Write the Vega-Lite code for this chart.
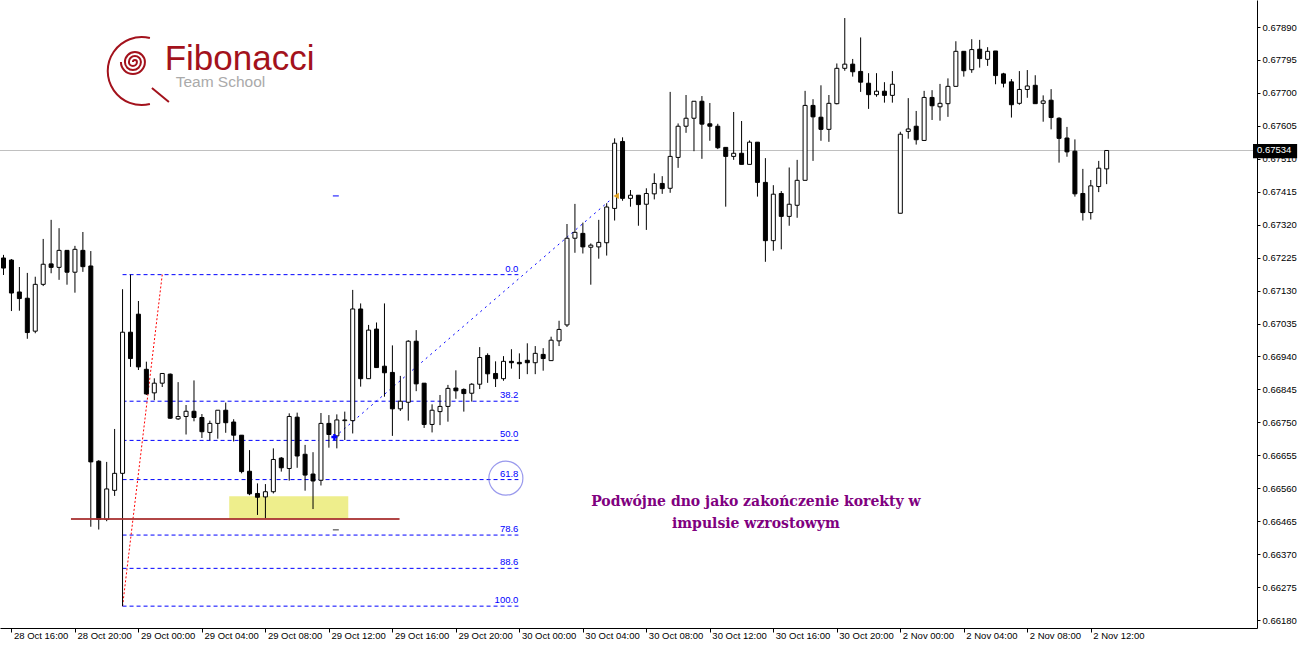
{
  "$schema": "https://vega.github.io/schema/vega-lite/v6.json",
  "width": 1257,
  "height": 628,
  "autosize": {"type": "none"},
  "padding": {"left": 0, "top": 0, "right": 44, "bottom": 17},
  "background": "#ffffff",
  "config": {"view": {"stroke": null}},
  "resolve": {"axis": {"x": "independent", "y": "independent"}},
  "datasets": {
    "candles": [
      {"i":-1,"o":0.67224,"h":0.67233,"l":0.67175,"c":0.67195},
      {"i":0,"o":0.67218,"h":0.67221,"l":0.67071,"c":0.67123},
      {"i":1,"o":0.67126,"h":0.67198,"l":0.67072,"c":0.67107},
      {"i":2,"o":0.67108,"h":0.67181,"l":0.66991,"c":0.67009},
      {"i":3,"o":0.67013,"h":0.67170,"l":0.67007,"c":0.67148},
      {"i":4,"o":0.67148,"h":0.67279,"l":0.67143,"c":0.67206},
      {"i":5,"o":0.67207,"h":0.67334,"l":0.67180,"c":0.67197},
      {"i":6,"o":0.67197,"h":0.67310,"l":0.67161,"c":0.67246},
      {"i":7,"o":0.67246,"h":0.67247,"l":0.67147,"c":0.67183},
      {"i":8,"o":0.67183,"h":0.67259,"l":0.67124,"c":0.67249},
      {"i":9,"o":0.67246,"h":0.67299,"l":0.67184,"c":0.67199},
      {"i":10,"o":0.67201,"h":0.67244,"l":0.66449,"c":0.66636},
      {"i":11,"o":0.66638,"h":0.66641,"l":0.66441,"c":0.66470},
      {"i":12,"o":0.66470,"h":0.66636,"l":0.66465,"c":0.66558},
      {"i":13,"o":0.66554,"h":0.66731,"l":0.66538,"c":0.66603},
      {"i":14,"o":0.66603,"h":0.67134,"l":0.66220,"c":0.67010},
      {"i":15,"o":0.67010,"h":0.67176,"l":0.66910,"c":0.66934},
      {"i":16,"o":0.67062,"h":0.67100,"l":0.66901,"c":0.66910},
      {"i":17,"o":0.66903,"h":0.66925,"l":0.66829,"c":0.66832},
      {"i":18,"o":0.66835,"h":0.66877,"l":0.66814,"c":0.66863},
      {"i":19,"o":0.66863,"h":0.66892,"l":0.66852,"c":0.66891},
      {"i":20,"o":0.66889,"h":0.66891,"l":0.66760,"c":0.66762},
      {"i":21,"o":0.66760,"h":0.66866,"l":0.66757,"c":0.66767},
      {"i":22,"o":0.66767,"h":0.66800,"l":0.66715,"c":0.66782},
      {"i":23,"o":0.66782,"h":0.66871,"l":0.66753,"c":0.66764},
      {"i":24,"o":0.66764,"h":0.66774,"l":0.66705,"c":0.66723},
      {"i":25,"o":0.66721,"h":0.66755,"l":0.66699,"c":0.66747},
      {"i":26,"o":0.66747,"h":0.66785,"l":0.66703,"c":0.66785},
      {"i":27,"o":0.66785,"h":0.66807,"l":0.66720,"c":0.66749},
      {"i":28,"o":0.66751,"h":0.66759,"l":0.66695,"c":0.66713},
      {"i":29,"o":0.66713,"h":0.66713,"l":0.66603,"c":0.66608},
      {"i":30,"o":0.66609,"h":0.66670,"l":0.66540,"c":0.66544},
      {"i":31,"o":0.66545,"h":0.66574,"l":0.66483,"c":0.66534},
      {"i":32,"o":0.66535,"h":0.66572,"l":0.66473,"c":0.66550},
      {"i":33,"o":0.66550,"h":0.66675,"l":0.66545,"c":0.66643},
      {"i":34,"o":0.66647,"h":0.66650,"l":0.66608,"c":0.66619},
      {"i":35,"o":0.66617,"h":0.66776,"l":0.66582,"c":0.66767},
      {"i":36,"o":0.66765,"h":0.66778,"l":0.66619,"c":0.66653},
      {"i":37,"o":0.66658,"h":0.66685,"l":0.66553,"c":0.66598},
      {"i":38,"o":0.66601,"h":0.66664,"l":0.66500,"c":0.66581},
      {"i":39,"o":0.66583,"h":0.66777,"l":0.66568,"c":0.66747},
      {"i":40,"o":0.66747,"h":0.66771,"l":0.66677,"c":0.66715},
      {"i":41,"o":0.66711,"h":0.66773,"l":0.66675,"c":0.66757},
      {"i":42,"o":0.66755,"h":0.66781,"l":0.66699,"c":0.66757},
      {"i":43,"o":0.66755,"h":0.67132,"l":0.66718,"c":0.67077},
      {"i":44,"o":0.67077,"h":0.67093,"l":0.66853,"c":0.66876},
      {"i":45,"o":0.66876,"h":0.67031,"l":0.66876,"c":0.67016},
      {"i":46,"o":0.67019,"h":0.67038,"l":0.66907,"c":0.66908},
      {"i":47,"o":0.66912,"h":0.67093,"l":0.66824,"c":0.66893},
      {"i":48,"o":0.66894,"h":0.66972,"l":0.66711,"c":0.66789},
      {"i":49,"o":0.66789,"h":0.66884,"l":0.66783,"c":0.66811},
      {"i":50,"o":0.66808,"h":0.66987,"l":0.66755,"c":0.66984},
      {"i":51,"o":0.66984,"h":0.67016,"l":0.66840,"c":0.66861},
      {"i":52,"o":0.66863,"h":0.66863,"l":0.66734,"c":0.66744},
      {"i":53,"o":0.66744,"h":0.66802,"l":0.66721,"c":0.66785},
      {"i":54,"o":0.66781,"h":0.66829,"l":0.66742,"c":0.66796},
      {"i":55,"o":0.66796,"h":0.66858,"l":0.66752,"c":0.66848},
      {"i":56,"o":0.66849,"h":0.66900,"l":0.66818,"c":0.66841},
      {"i":57,"o":0.66845,"h":0.66848,"l":0.66781,"c":0.66833},
      {"i":58,"o":0.66834,"h":0.66863,"l":0.66810,"c":0.66860},
      {"i":59,"o":0.66860,"h":0.66967,"l":0.66846,"c":0.66937},
      {"i":60,"o":0.66943,"h":0.66949,"l":0.66864,"c":0.66890},
      {"i":61,"o":0.66891,"h":0.66926,"l":0.66852,"c":0.66876},
      {"i":62,"o":0.66876,"h":0.66941,"l":0.66870,"c":0.66926},
      {"i":63,"o":0.66926,"h":0.66961,"l":0.66905,"c":0.66922},
      {"i":64,"o":0.66923,"h":0.66949,"l":0.66875,"c":0.66919},
      {"i":65,"o":0.66929,"h":0.66978,"l":0.66889,"c":0.66922},
      {"i":66,"o":0.66922,"h":0.66970,"l":0.66889,"c":0.66949},
      {"i":67,"o":0.66946,"h":0.66964,"l":0.66899,"c":0.66934},
      {"i":68,"o":0.66928,"h":0.66997,"l":0.66928,"c":0.66987},
      {"i":69,"o":0.66985,"h":0.67043,"l":0.66970,"c":0.67018},
      {"i":70,"o":0.67031,"h":0.67322,"l":0.67025,"c":0.67281},
      {"i":71,"o":0.67281,"h":0.67380,"l":0.67239,"c":0.67298},
      {"i":72,"o":0.67295,"h":0.67326,"l":0.67237,"c":0.67256},
      {"i":73,"o":0.67255,"h":0.67266,"l":0.67147,"c":0.67261},
      {"i":74,"o":0.67256,"h":0.67334,"l":0.67222,"c":0.67269},
      {"i":75,"o":0.67268,"h":0.67382,"l":0.67231,"c":0.67371},
      {"i":76,"o":0.67367,"h":0.67569,"l":0.67332,"c":0.67555},
      {"i":77,"o":0.67560,"h":0.67572,"l":0.67389,"c":0.67396},
      {"i":78,"o":0.67396,"h":0.67420,"l":0.67372,"c":0.67405},
      {"i":79,"o":0.67405,"h":0.67405,"l":0.67317,"c":0.67378},
      {"i":80,"o":0.67379,"h":0.67425,"l":0.67305,"c":0.67410},
      {"i":81,"o":0.67409,"h":0.67468,"l":0.67393,"c":0.67439},
      {"i":82,"o":0.67439,"h":0.67460,"l":0.67409,"c":0.67424},
      {"i":83,"o":0.67425,"h":0.67703,"l":0.67412,"c":0.67517},
      {"i":84,"o":0.67514,"h":0.67612,"l":0.67484,"c":0.67604},
      {"i":85,"o":0.67604,"h":0.67694,"l":0.67585,"c":0.67627},
      {"i":86,"o":0.67627,"h":0.67676,"l":0.67532,"c":0.67676},
      {"i":87,"o":0.67676,"h":0.67691,"l":0.67510,"c":0.67610},
      {"i":88,"o":0.67611,"h":0.67671,"l":0.67562,"c":0.67604},
      {"i":89,"o":0.67604,"h":0.67611,"l":0.67538,"c":0.67542},
      {"i":90,"o":0.67543,"h":0.67543,"l":0.67372,"c":0.67517},
      {"i":91,"o":0.67517,"h":0.67645,"l":0.67507,"c":0.67526},
      {"i":92,"o":0.67526,"h":0.67619,"l":0.67494,"c":0.67494},
      {"i":93,"o":0.67494,"h":0.67563,"l":0.67494,"c":0.67558},
      {"i":94,"o":0.67558,"h":0.67558,"l":0.67401,"c":0.67442},
      {"i":95,"o":0.67442,"h":0.67512,"l":0.67213,"c":0.67274},
      {"i":96,"o":0.67274,"h":0.67434,"l":0.67245,"c":0.67408},
      {"i":97,"o":0.67410,"h":0.67417,"l":0.67249,"c":0.67344},
      {"i":98,"o":0.67344,"h":0.67485,"l":0.67317,"c":0.67379},
      {"i":99,"o":0.67376,"h":0.67507,"l":0.67340,"c":0.67448},
      {"i":100,"o":0.67448,"h":0.67706,"l":0.67448,"c":0.67664},
      {"i":101,"o":0.67664,"h":0.67682,"l":0.67504,"c":0.67631},
      {"i":102,"o":0.67630,"h":0.67722,"l":0.67562,"c":0.67595},
      {"i":103,"o":0.67595,"h":0.67694,"l":0.67559,"c":0.67670},
      {"i":104,"o":0.67669,"h":0.67785,"l":0.67667,"c":0.67771},
      {"i":105,"o":0.67771,"h":0.67916,"l":0.67764,"c":0.67783},
      {"i":106,"o":0.67783,"h":0.67798,"l":0.67747,"c":0.67761},
      {"i":107,"o":0.67762,"h":0.67860,"l":0.67703,"c":0.67731},
      {"i":108,"o":0.67728,"h":0.67757,"l":0.67654,"c":0.67695},
      {"i":109,"o":0.67695,"h":0.67757,"l":0.67689,"c":0.67705},
      {"i":110,"o":0.67705,"h":0.67731,"l":0.67672,"c":0.67693},
      {"i":111,"o":0.67693,"h":0.67763,"l":0.67672,"c":0.67725},
      {"i":112,"o":0.67353,"h":0.67588,"l":0.67353,"c":0.67581},
      {"i":113,"o":0.67589,"h":0.67685,"l":0.67568,"c":0.67596},
      {"i":114,"o":0.67604,"h":0.67648,"l":0.67551,"c":0.67565},
      {"i":115,"o":0.67563,"h":0.67706,"l":0.67563,"c":0.67687},
      {"i":116,"o":0.67687,"h":0.67708,"l":0.67622,"c":0.67663},
      {"i":117,"o":0.67660,"h":0.67726,"l":0.67620,"c":0.67670},
      {"i":118,"o":0.67669,"h":0.67742,"l":0.67631,"c":0.67719},
      {"i":119,"o":0.67719,"h":0.67849,"l":0.67719,"c":0.67820},
      {"i":120,"o":0.67820,"h":0.67820,"l":0.67747,"c":0.67764},
      {"i":121,"o":0.67767,"h":0.67855,"l":0.67758,"c":0.67825},
      {"i":122,"o":0.67826,"h":0.67853,"l":0.67773,"c":0.67799},
      {"i":123,"o":0.67797,"h":0.67832,"l":0.67778,"c":0.67820},
      {"i":124,"o":0.67821,"h":0.67821,"l":0.67725,"c":0.67750},
      {"i":125,"o":0.67755,"h":0.67758,"l":0.67716,"c":0.67728},
      {"i":126,"o":0.67732,"h":0.67740,"l":0.67629,"c":0.67666},
      {"i":127,"o":0.67670,"h":0.67763,"l":0.67666,"c":0.67710},
      {"i":128,"o":0.67710,"h":0.67766,"l":0.67686,"c":0.67720},
      {"i":129,"o":0.67722,"h":0.67751,"l":0.67669,"c":0.67669},
      {"i":130,"o":0.67670,"h":0.67693,"l":0.67617,"c":0.67677},
      {"i":131,"o":0.67679,"h":0.67711,"l":0.67595,"c":0.67629},
      {"i":132,"o":0.67627,"h":0.67630,"l":0.67499,"c":0.67569},
      {"i":133,"o":0.67570,"h":0.67602,"l":0.67516,"c":0.67530},
      {"i":134,"o":0.67532,"h":0.67566,"l":0.67401,"c":0.67409},
      {"i":135,"o":0.67410,"h":0.67481,"l":0.67332,"c":0.67355},
      {"i":136,"o":0.67355,"h":0.67449,"l":0.67335,"c":0.67432},
      {"i":137,"o":0.67430,"h":0.67504,"l":0.67414,"c":0.67483},
      {"i":138,"o":0.67481,"h":0.67534,"l":0.67437,"c":0.67534}
    ],
    "fib": [
      {"lvl":"0.0","p":0.67176,"i":14,"i2":63.875},
      {"lvl":"38.2","p":0.66811,"i":14,"i2":63.875},
      {"lvl":"50.0","p":0.66698,"i":14,"i2":63.875},
      {"lvl":"61.8","p":0.66585,"i":14,"i2":63.875},
      {"lvl":"78.6","p":0.66425,"i":14,"i2":63.875},
      {"lvl":"88.6","p":0.66329,"i":14,"i2":63.875},
      {"lvl":"100.0","p":0.66220,"i":14,"i2":63.875}
    ]
  },
  "layer": [
    {
      "data": {"values": [{"p": 0.67534}]},
      "mark": {"type": "rule", "color": "#c0c0c0", "strokeWidth": 1},
      "encoding": {
        "y": {"field": "p", "type": "quantitative", "scale": {"domain": [0.66157, 0.67968], "nice": false, "zero": false}, "axis": null}
      }
    },
    {
      "data": {"values": [{"i": 27.44, "i2": 42.44, "p": 0.66537, "p2": 0.66471}]},
      "mark": {"type": "rect", "fill": "#eeee8c"},
      "encoding": {
        "x": {"field": "i", "type": "quantitative", "scale": {"domain": [-0.8125, 156.3125], "nice": false, "zero": false}, "axis": null},
        "x2": {"field": "i2"},
        "y": {"field": "p", "type": "quantitative", "scale": {"domain": [0.66157, 0.67968], "nice": false, "zero": false}, "axis": null},
        "y2": {"field": "p2"}
      }
    },
    {
      "data": {"name": "fib"},
      "mark": {"type": "rule", "color": "#0000ff", "strokeWidth": 1, "strokeDash": [4, 3]},
      "encoding": {
        "x": {"field": "i", "type": "quantitative", "scale": {"domain": [-0.8125, 156.3125], "nice": false, "zero": false}, "axis": null},
        "x2": {"field": "i2"},
        "y": {"field": "p", "type": "quantitative", "scale": {"domain": [0.66157, 0.67968], "nice": false, "zero": false}, "axis": null}
      }
    },
    {
      "data": {"name": "fib"},
      "mark": {"type": "text", "color": "#0000ff", "font": "Liberation Sans", "fontSize": 9.5, "align": "right", "baseline": "bottom", "dy": -1},
      "encoding": {
        "x": {"field": "i2", "type": "quantitative", "scale": {"domain": [-0.8125, 156.3125], "nice": false, "zero": false}, "axis": null},
        "y": {"field": "p", "type": "quantitative", "scale": {"domain": [0.66157, 0.67968], "nice": false, "zero": false}, "axis": null},
        "text": {"field": "lvl"}
      }
    },
    {
      "data": {"values": [{"i": 14, "p": 0.66220}, {"i": 19, "p": 0.67176}]},
      "mark": {"type": "line", "color": "#ff0000", "strokeWidth": 1, "strokeDash": [2, 2]},
      "encoding": {
        "x": {"field": "i", "type": "quantitative", "scale": {"domain": [-0.8125, 156.3125], "nice": false, "zero": false}, "axis": null},
        "y": {"field": "p", "type": "quantitative", "scale": {"domain": [0.66157, 0.67968], "nice": false, "zero": false}, "axis": null}
      }
    },
    {
      "data": {"values": [{"i": 40.75, "p": 0.66708}, {"i": 75.75, "p": 0.67397}]},
      "mark": {"type": "line", "color": "#0000ff", "strokeWidth": 1, "strokeDash": [2, 4]},
      "encoding": {
        "x": {"field": "i", "type": "quantitative", "scale": {"domain": [-0.8125, 156.3125], "nice": false, "zero": false}, "axis": null},
        "y": {"field": "p", "type": "quantitative", "scale": {"domain": [0.66157, 0.67968], "nice": false, "zero": false}, "axis": null}
      }
    },
    {
      "data": {"name": "candles"},
      "mark": {"type": "rule", "color": "#000000", "strokeWidth": 1},
      "encoding": {
        "x": {
          "field": "i", "type": "quantitative",
          "scale": {"domain": [-0.8125, 156.3125], "nice": false, "zero": false},
          "axis": {
            "orient": "bottom", "title": null, "grid": false,
            "values": [0, 8, 16, 24, 32, 40, 48, 56, 64, 72, 80, 88, 96, 104, 112, 120, 128, 136],
            "labelExpr": "['28 Oct 16:00','28 Oct 20:00','29 Oct 00:00','29 Oct 04:00','29 Oct 08:00','29 Oct 12:00','29 Oct 16:00','29 Oct 20:00','30 Oct 00:00','30 Oct 04:00','30 Oct 08:00','30 Oct 12:00','30 Oct 16:00','30 Oct 20:00','2 Nov 00:00','2 Nov 04:00','2 Nov 08:00','2 Nov 12:00'][round(datum.value / 8)]",
            "labelAlign": "left", "labelBaseline": "top", "labelOffset": 2, "labelPadding": -2,
            "tickSize": 4, "tickColor": "#000000", "domainColor": "#000000",
            "labelColor": "#000000", "labelFont": "Liberation Sans", "labelFontSize": 9.5,
            "labelOverlap": false, "labelFlush": false, "labelBound": false
          }
        },
        "y": {
          "field": "l", "type": "quantitative",
          "scale": {"domain": [0.66157, 0.67968], "nice": false, "zero": false},
          "axis": {
            "orient": "right", "title": null, "grid": false,
            "values": [0.6618, 0.66275, 0.6637, 0.66465, 0.6656, 0.66655, 0.6675, 0.66845, 0.6694, 0.67035, 0.6713, 0.67225, 0.6732, 0.67415, 0.6751, 0.67605, 0.677, 0.67795, 0.6789],
            "format": ".5f", "tickSize": 3, "labelPadding": 2,
            "tickColor": "#000000", "domainColor": "#000000",
            "labelColor": "#000000", "labelFont": "Liberation Sans", "labelFontSize": 9.5,
            "labelOverlap": false, "labelFlush": false, "labelBound": false
          }
        },
        "y2": {"field": "h"}
      }
    },
    {
      "data": {"name": "candles"},
      "mark": {"type": "bar", "orient": "vertical", "size": 4, "stroke": "#000000", "strokeWidth": 1},
      "encoding": {
        "x": {"field": "i", "type": "quantitative", "scale": {"domain": [-0.8125, 156.3125], "nice": false, "zero": false}, "axis": null},
        "y": {"field": "o", "type": "quantitative", "scale": {"domain": [0.66157, 0.67968], "nice": false, "zero": false}, "axis": null},
        "y2": {"field": "c"},
        "fill": {"condition": {"test": "datum.c >= datum.o", "value": "#ffffff"}, "value": "#000000"}
      }
    },
    {
      "data": {"values": [{"i": 7.5, "i2": 48.9, "p": 0.66471}]},
      "mark": {"type": "rule", "color": "#a83232", "strokeWidth": 2, "opacity": 0.9},
      "encoding": {
        "x": {"field": "i", "type": "quantitative", "scale": {"domain": [-0.8125, 156.3125], "nice": false, "zero": false}, "axis": null},
        "x2": {"field": "i2"},
        "y": {"field": "p", "type": "quantitative", "scale": {"domain": [0.66157, 0.67968], "nice": false, "zero": false}, "axis": null}
      }
    },
    {
      "data": {"values": [{"i": 40.5, "i2": 41.25, "p": 0.67403, "k": "a"}, {"i": 40.5, "i2": 41.25, "p": 0.66440, "k": "b"}]},
      "mark": {"type": "rule", "strokeWidth": 1},
      "encoding": {
        "x": {"field": "i", "type": "quantitative", "scale": {"domain": [-0.8125, 156.3125], "nice": false, "zero": false}, "axis": null},
        "x2": {"field": "i2"},
        "y": {"field": "p", "type": "quantitative", "scale": {"domain": [0.66157, 0.67968], "nice": false, "zero": false}, "axis": null},
        "color": {"field": "k", "type": "nominal", "scale": {"domain": ["a", "b"], "range": ["#0000ff", "#333333"]}, "legend": null}
      }
    },
    {
      "data": {"values": [{"i": 62.3, "p": 0.66589}]},
      "mark": {"type": "point", "shape": "circle", "size": 1156, "filled": false, "stroke": "#6f6fe6", "strokeWidth": 1.2},
      "encoding": {
        "x": {"field": "i", "type": "quantitative", "scale": {"domain": [-0.8125, 156.3125], "nice": false, "zero": false}, "axis": null},
        "y": {"field": "p", "type": "quantitative", "scale": {"domain": [0.66157, 0.67968], "nice": false, "zero": false}, "axis": null}
      }
    },
    {
      "data": {"values": [{"i": 40.69, "p": 0.66708}]},
      "mark": {"type": "point", "shape": "cross", "size": 36, "filled": true, "fill": "#0000ff", "strokeWidth": 0, "opacity": 1},
      "encoding": {
        "x": {"field": "i", "type": "quantitative", "scale": {"domain": [-0.8125, 156.3125], "nice": false, "zero": false}, "axis": null},
        "y": {"field": "p", "type": "quantitative", "scale": {"domain": [0.66157, 0.67968], "nice": false, "zero": false}, "axis": null}
      }
    },
    {
      "data": {"values": [{"i": 76.19, "p": 0.67403}]},
      "mark": {"type": "point", "shape": "triangle-left", "size": 40, "filled": true, "fill": "#e0a020", "strokeWidth": 0, "opacity": 1},
      "encoding": {
        "x": {"field": "i", "type": "quantitative", "scale": {"domain": [-0.8125, 156.3125], "nice": false, "zero": false}, "axis": null},
        "y": {"field": "p", "type": "quantitative", "scale": {"domain": [0.66157, 0.67968], "nice": false, "zero": false}, "axis": null}
      }
    },
    {
      "data": {"values": [{"i": 93.8, "p": 0.66520, "t": "Podwójne dno jako zakończenie korekty w"}, {"i": 93.8, "p": 0.66457, "t": "impulsie wzrostowym"}]},
      "mark": {"type": "text", "color": "#800080", "font": "DejaVu Serif", "fontWeight": "bold", "fontSize": 14, "align": "center", "baseline": "middle"},
      "encoding": {
        "x": {"field": "i", "type": "quantitative", "scale": {"domain": [-0.8125, 156.3125], "nice": false, "zero": false}, "axis": null},
        "y": {"field": "p", "type": "quantitative", "scale": {"domain": [0.66157, 0.67968], "nice": false, "zero": false}, "axis": null},
        "text": {"field": "t"}
      }
    },
    {
      "data": {"values": [{"i": 15.81, "p": 0.67766}]},
      "mark": {"type": "point", "shape": "M -0.1 -0.2 A 0.05 0.05 0 0 1 0 -0.2 A 0.1 0.1 0 0 1 -0.2 -0.2 A 0.15 0.15 0 0 1 0.1 -0.2 A 0.2 0.2 0 0 1 -0.3 -0.2 A 0.25 0.25 0 0 1 0.2 -0.2 A 0.3 0.3 0 0 1 -0.4 -0.2 M 0.325 -0.8 A 0.85 0.85 0 1 0 0.325 0.85 M 0.375 0.45 L 0.8 0.8", "size": 6400, "filled": false, "stroke": "#a3121c", "strokeWidth": 2, "opacity": 1},
      "encoding": {
        "x": {"field": "i", "type": "quantitative", "scale": {"domain": [-0.8125, 156.3125], "nice": false, "zero": false}, "axis": null},
        "y": {"field": "p", "type": "quantitative", "scale": {"domain": [0.66157, 0.67968], "nice": false, "zero": false}, "axis": null}
      }
    },
    {
      "data": {"values": [{"i": 19.31, "p": 0.67766, "t": "Fibonacci"}]},
      "mark": {"type": "text", "color": "#a3121c", "font": "Liberation Sans", "fontSize": 35, "align": "left", "baseline": "alphabetic"},
      "encoding": {
        "x": {"field": "i", "type": "quantitative", "scale": {"domain": [-0.8125, 156.3125], "nice": false, "zero": false}, "axis": null},
        "y": {"field": "p", "type": "quantitative", "scale": {"domain": [0.66157, 0.67968], "nice": false, "zero": false}, "axis": null},
        "text": {"field": "t"}
      }
    },
    {
      "data": {"values": [{"i": 20.69, "p": 0.67717, "t": "Team School"}]},
      "mark": {"type": "text", "color": "#aaaaaa", "font": "Liberation Sans", "fontSize": 15.5, "align": "left", "baseline": "alphabetic"},
      "encoding": {
        "x": {"field": "i", "type": "quantitative", "scale": {"domain": [-0.8125, 156.3125], "nice": false, "zero": false}, "axis": null},
        "y": {"field": "p", "type": "quantitative", "scale": {"domain": [0.66157, 0.67968], "nice": false, "zero": false}, "axis": null},
        "text": {"field": "t"}
      }
    },
    {
      "data": {"values": [{"i": 156.44, "i2": 162, "p": 0.67553, "p2": 0.67512}]},
      "mark": {"type": "rect", "fill": "#000000"},
      "encoding": {
        "x": {"field": "i", "type": "quantitative", "scale": {"domain": [-0.8125, 156.3125], "nice": false, "zero": false}, "axis": null},
        "x2": {"field": "i2"},
        "y": {"field": "p", "type": "quantitative", "scale": {"domain": [0.66157, 0.67968], "nice": false, "zero": false}, "axis": null},
        "y2": {"field": "p2"}
      }
    },
    {
      "data": {"values": [{"i": 156.94, "p": 0.67534, "t": "0.67534"}]},
      "mark": {"type": "text", "color": "#ffffff", "font": "Liberation Sans", "fontSize": 9.5, "align": "left", "baseline": "middle"},
      "encoding": {
        "x": {"field": "i", "type": "quantitative", "scale": {"domain": [-0.8125, 156.3125], "nice": false, "zero": false}, "axis": null},
        "y": {"field": "p", "type": "quantitative", "scale": {"domain": [0.66157, 0.67968], "nice": false, "zero": false}, "axis": null},
        "text": {"field": "t"}
      }
    }
  ]
}
